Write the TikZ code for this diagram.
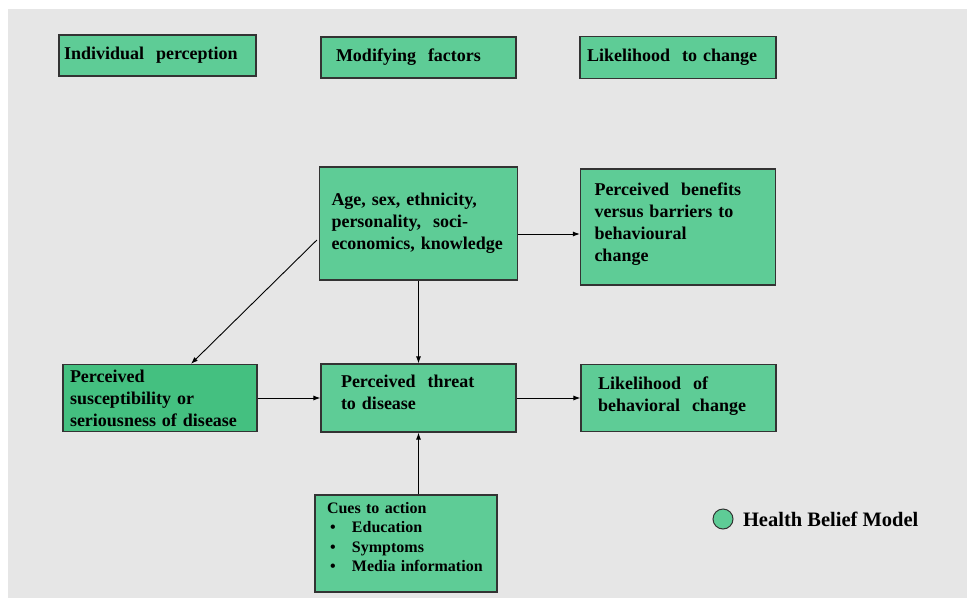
\documentclass[tikz,border=0pt]{standalone}
\usepackage{fontspec}
\setmainfont{Liberation Serif}
\usetikzlibrary{shapes,arrows,arrows.meta}
\usetikzlibrary{positioning}
\usepackage{xcolor}
\definecolor{hbmgreen}{RGB}{94,204,150}
\definecolor{hbmdark}{RGB}{68,192,128}
\definecolor{slidegray}{RGB}{230,230,230}
\newcommand{\cuebullet}{\makebox[25pt][l]{\hspace{3pt}\textbullet}}
\tikzset{
  factor/.style={draw=black!80, fill=hbmgreen, line width=1.2pt, align=left,
    inner ysep=3pt, font=\bfseries\fontsize{18}{22}\selectfont},
  link/.style={-{Latex[length=7pt,width=5pt]}, line width=0.9pt},
}

\begin{document}
\begin{tikzpicture}[x=1pt, y=-1pt, node distance=260pt, on grid]
  % Slide background
  \fill[white] (0,0) rectangle (967,598);
  \fill[slidegray] (8,9) rectangle (967,598);
  \useasboundingbox (0,0) rectangle (967,598);

  % Column headings
  \node[factor, text width=165pt, inner xsep=15pt, minimum height=41pt] (modif) at (418.5,57.5) {Modifying\ \ factors};
  \node[factor, text width=187pt, inner xsep=5pt, minimum height=41pt] (indiv) [left=261pt of modif, yshift=2pt] {Individual\ \ perception};
  \node[factor, text width=182pt, inner xsep=7pt, minimum height=42pt] (liketo) [right=259.5pt of modif] {Likelihood\ \ to change};

  % Middle row
  \node[factor, text width=155pt, inner xsep=20pt, minimum height=68pt, text depth=34pt] (threat) at (418.5,398) {Perceived\ \ threat\\to disease};
  \node[factor, fill=hbmdark, text width=180pt, inner xsep=7pt, minimum height=67pt] (suscept) [left=258.5pt of threat] {Perceived\\susceptibility or\\seriousness of disease};
  \node[factor, text width=161pt, inner xsep=17pt, minimum height=67pt, text depth=30pt] (likeof) [right=260pt of threat] {Likelihood\ \ of\\behavioral\ \ change};

  % Modifying factors and cues
  \node[factor, text width=174pt, inner xsep=12pt, minimum height=113pt] (age) [above=174.5pt of threat] {Age, sex, ethnicity,\\personality,\ \ soci-\\economics,\ knowledge};
  \node[factor, text width=167pt, inner xsep=14pt, minimum height=116pt, text depth=75pt] (benefits) [right=259.5pt of age, yshift=-3.5pt] {Perceived\ \ benefits\\versus barriers to\\behavioural\\change};
  \node[factor, text width=158pt, inner xsep=12pt, minimum height=97pt, text depth=72pt,
    font=\bfseries\fontsize{16}{19.5}\selectfont] (cues) [below=145.5pt of threat, xshift=-12.5pt]
    {Cues to action\\\cuebullet Education\\\cuebullet Symptoms\\\cuebullet Media information};

  % Legend
  \node[circle, draw=black!80, fill=hbmgreen, line width=1pt, minimum size=20pt, inner sep=0pt] (legdot) at (723,519) {};
  \node[font=\bfseries\fontsize{20.5}{24}\selectfont, on grid=false, right=6pt of legdot] (legtext) {Health Belief Model};

  % Connectors
  \coordinate (ageout) at ([yshift=-10.5pt]age.east);
  \coordinate (ageleft) at ([xshift=-2pt, yshift=-16.5pt]age.west);
  \coordinate (susctop) at ([xshift=31pt]suscept.north);
  \draw[link] (ageout) -- (ageout -| benefits.west);
  \draw[link] (age) -- (threat);
  \draw[link] (ageleft) -- (susctop);
  \draw[link] (suscept) -- (threat);
  \draw[link] (threat) -- (likeof);
  \draw[link] (cues.north -| threat.south) -- (threat.south);
\end{tikzpicture}
\end{document}
